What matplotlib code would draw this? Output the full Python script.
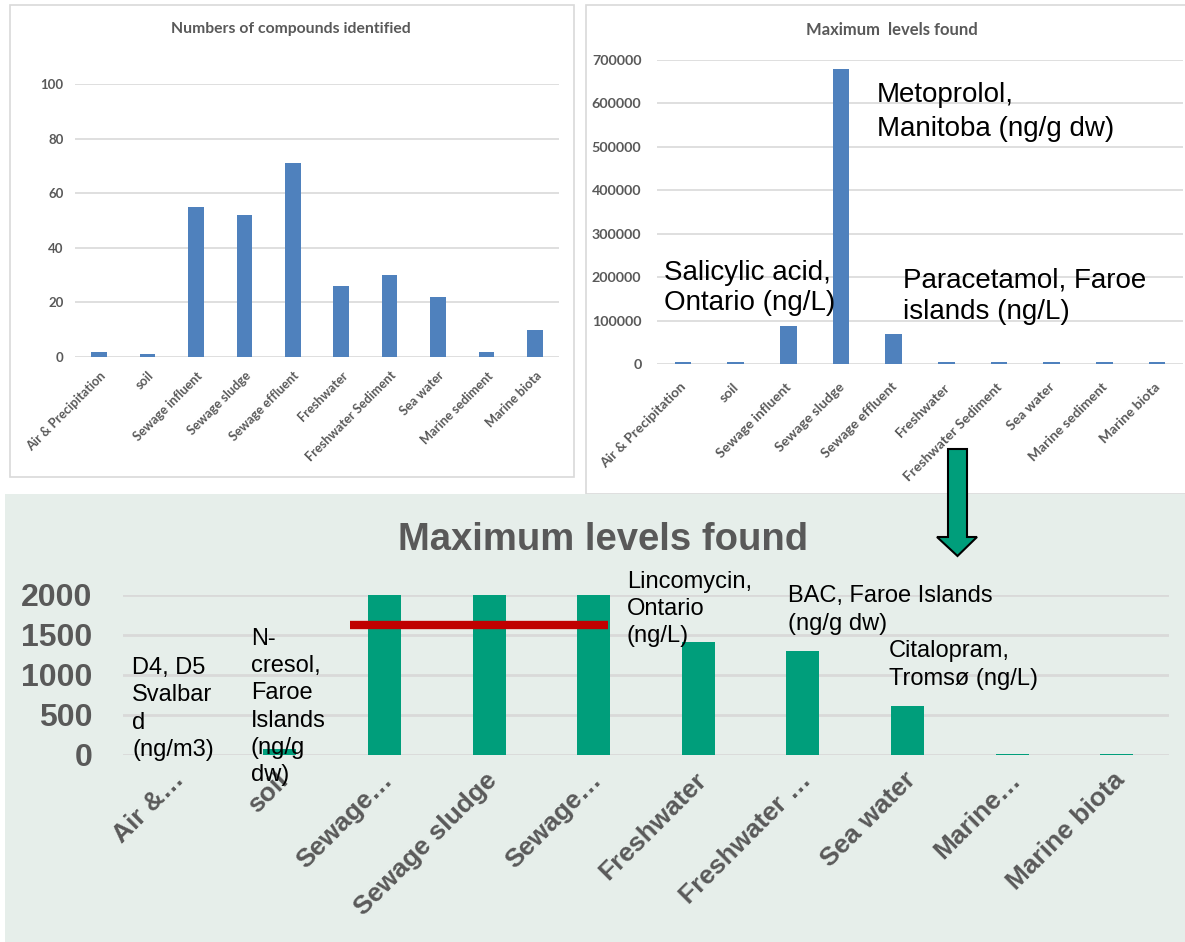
import matplotlib
matplotlib.use('Agg')
import matplotlib.pyplot as plt
import matplotlib.transforms as mtransforms
from matplotlib.patches import Rectangle, Polygon
import numpy as np

# ============================================================================
# Data
# ============================================================================
categories = ['Air & Precipitation', 'soil', 'Sewage influent', 'Sewage sludge',
              'Sewage effluent', 'Freshwater', 'Freshwater Sediment', 'Sea water',
              'Marine sediment', 'Marine biota']
short_labels = ['Air &…', 'soil', 'Sewage…', 'Sewage sludge', 'Sewage…',
                'Freshwater', 'Freshwater …', 'Sea water', 'Marine…', 'Marine biota']

n_compounds = [2, 1, 55, 52, 71, 26, 30, 22, 2, 10]
max_levels = [5000, 5000, 88000, 680000, 70000, 5000, 5000, 5000, 5000, 5000]
max_levels_zoom = [5, 80, 88000, 680000, 70000, 1410, 1300, 607, 12, 12]

compounds_ticks = [0, 20, 40, 60, 80, 100]
levels_ticks = [0, 100000, 200000, 300000, 400000, 500000, 600000, 700000]
zoom_ticks = [0, 500, 1000, 1500, 2000]

red_line_level = 1620

# ============================================================================
# Style
# ============================================================================
W, H = 1185, 942
COLOR_BLUE = '#4F81BD'
COLOR_GREEN = '#009E7B'
COLOR_RED = '#C00000'
COLOR_GRID = '#D9D9D9'
COLOR_TEXT = '#595959'
COLOR_PANEL = '#E6EEEA'
EXCEL_FONT = ['Lato', 'DejaVu Sans']
PPT_FONT = ['Liberation Sans', 'DejaVu Sans']


def rect(x0, y0, x1, y1):
    return [x0 / W, 1 - y1 / H, (x1 - x0) / W, (y1 - y0) / H]


def fx(x):
    return x / W


def fy(y):
    return 1 - y / H


fig = plt.figure(figsize=(W / 100, H / 100), dpi=100)

# panel frames (behind the axes)
fig.patches.append(Rectangle((fx(10), fy(477)), (574 - 10) / W, (477 - 5) / H,
                             transform=fig.transFigure, facecolor='white',
                             edgecolor=COLOR_GRID, linewidth=1.2, zorder=-2))
fig.patches.append(Rectangle((fx(586), fy(494)), (1190 - 586) / W, (494 - 5) / H,
                             transform=fig.transFigure, facecolor='white',
                             edgecolor=COLOR_GRID, linewidth=1.2, zorder=-2))
fig.patches.append(Rectangle((fx(5), fy(945)), (1190 - 5) / W, (945 - 494) / H,
                             transform=fig.transFigure, facecolor=COLOR_PANEL,
                             edgecolor='none', zorder=-1))

x = np.arange(len(categories))


def style_excel(ax, ticks, xsize, ysize, ypad, xpad):
    ax.set_facecolor('none')
    for s in ax.spines.values():
        s.set_visible(False)
    ax.set_yticks(ticks)
    ax.set_xlim(-0.5, len(categories) - 0.5)
    ax.set_ylim(ticks[0], ticks[-1])
    ax.yaxis.grid(True, color=COLOR_GRID, linewidth=1.2)
    ax.set_axisbelow(True)
    ax.tick_params(axis='both', length=0, colors=COLOR_TEXT)
    ax.tick_params(axis='y', labelsize=ysize, pad=ypad)
    for lab in ax.get_yticklabels():
        lab.set_fontfamily(EXCEL_FONT)
        lab.set_fontweight('bold')
    ax.set_xticks(x)
    ax.set_xticklabels(categories, rotation=45, ha='right', rotation_mode='anchor',
                       fontsize=xsize, fontweight='bold', family=EXCEL_FONT,
                       color=COLOR_TEXT)
    ax.tick_params(axis='x', pad=xpad)


# ---------------------------------------------------------------- top left
ax1 = fig.add_axes(rect(74.75, 84, 559.25, 357))
ax1.bar(x, n_compounds, width=0.32, color=COLOR_BLUE, zorder=3)
style_excel(ax1, compounds_ticks, 9.2, 9.5, 8, 9)
fig.text(fx(291), fy(29), 'Numbers of compounds identified', ha='center', va='center',
         fontsize=11.3, fontweight='bold', color=COLOR_TEXT, family=EXCEL_FONT)

# ---------------------------------------------------------------- top right
ax2 = fig.add_axes(rect(656.7, 60, 1183.3, 364))
ax2.bar(x, max_levels, width=0.32, color=COLOR_BLUE, zorder=3)
style_excel(ax2, levels_ticks, 10, 10.3, 11, 12)
shift = mtransforms.ScaledTranslation(-3 / 100, 0, fig.dpi_scale_trans)
for lab in ax2.get_xticklabels():
    lab.set_transform(lab.get_transform() + shift)
fig.text(fx(892), fy(30), 'Maximum  levels found', ha='center', va='center',
         fontsize=12, fontweight='bold', color=COLOR_TEXT, family=EXCEL_FONT)

fig.text(fx(877), fy(112), 'Metoprolol,\nManitoba (ng/g dw)', ha='left', va='center',
         fontsize=20, family=PPT_FONT, color='black', linespacing=1.35)
fig.text(fx(664), fy(288), 'Salicylic acid,\nOntario (ng/L)', ha='left', va='center',
         fontsize=20, family=PPT_FONT, color='black', linespacing=1.17)
fig.text(fx(903), fy(296), 'Paracetamol, Faroe\nislands (ng/L)', ha='left', va='center',
         fontsize=20, family=PPT_FONT, color='black', linespacing=1.28)

# ---------------------------------------------------------------- bottom
ax3 = fig.add_axes(rect(123, 595, 1169, 755))
ax3.set_facecolor('none')
ax3.bar(x, max_levels_zoom, width=0.315, color=COLOR_GREEN, zorder=3)
for s in ax3.spines.values():
    s.set_visible(False)
ax3.set_xlim(-0.5, len(categories) - 0.5)
ax3.set_ylim(zoom_ticks[0], zoom_ticks[-1])
ax3.set_yticks(zoom_ticks)
ax3.yaxis.grid(True, color=COLOR_GRID, linewidth=2)
ax3.set_axisbelow(True)
ax3.tick_params(axis='both', length=0, colors=COLOR_TEXT)
ax3.tick_params(axis='y', labelsize=23, pad=22)
for lab in ax3.get_yticklabels():
    lab.set_fontfamily(PPT_FONT)
    lab.set_fontweight('bold')
ax3.set_xticks(x)
ax3.set_xticklabels(short_labels, rotation=45, ha='right', rotation_mode='anchor',
                    fontsize=19, fontweight='bold', family=PPT_FONT, color=COLOR_TEXT)
offset = mtransforms.ScaledTranslation(-4 / 100, -8 / 100, fig.dpi_scale_trans)
for lab in ax3.get_xticklabels():
    lab.set_transform(lab.get_transform() + offset)

# red reference line across the sewage bars
ax3.hlines(red_line_level, x[2] - 0.33, x[4] + 0.14, color=COLOR_RED, linewidth=6, zorder=4)

fig.text(fx(603), fy(540), 'Maximum levels found', ha='center', va='center',
         fontsize=27.5, fontweight='bold', color=COLOR_TEXT, family=PPT_FONT)

notes = [
    (132, 709, 'D4, D5\nSvalbar\nd\n(ng/m3)'),
    (251, 707, 'N-\ncresol,\nFaroe\nIslands\n(ng/g\ndw)'),
    (627, 609, 'Lincomycin,\nOntario\n(ng/L)'),
    (788, 610, 'BAC, Faroe Islands\n(ng/g dw)'),
    (889, 665, 'Citalopram,\nTromsø (ng/L)'),
]
for px, py, txt in notes:
    fig.text(fx(px), fy(py), txt, ha='left', va='center', fontsize=17,
             family=PPT_FONT, color='black', linespacing=1.3, zorder=5)

# arrow linking the two charts
arrow = Polygon([(fx(948), fy(449)), (fx(967), fy(449)), (fx(967), fy(537)),
                 (fx(977), fy(537)), (fx(957.5), fy(556)), (fx(937), fy(537)),
                 (fx(948), fy(537))], closed=True, transform=fig.transFigure,
                facecolor=COLOR_GREEN, edgecolor='black', linewidth=1.5, zorder=6)
fig.patches.append(arrow)

fig.savefig('out.png', dpi=100)
